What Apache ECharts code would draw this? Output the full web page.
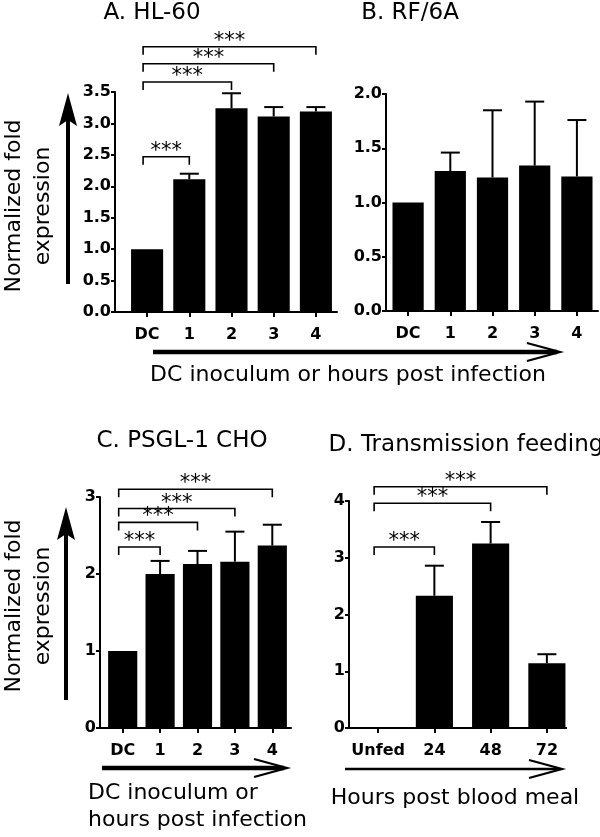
<!DOCTYPE html>
<html><head><meta charset="utf-8">
<script src="https://cdn.jsdelivr.net/npm/echarts@6/dist/echarts.min.js"></script>
<style>html,body{margin:0;padding:0;background:#fff}#c{width:600px;height:837px}</style>
</head><body><div id="c"></div>
<script>
// ---- data ----
const catsAB = ['DC', '1', '2', '3', '4'];
const catsC = ['DC', '1', '2', '3', '4'];
const catsD = ['Unfed', '24', '48', '72'];

const valsA = [1.0, 2.11, 3.24, 3.11, 3.19];
const semA  = [0, 0.09, 0.24, 0.15, 0.07];
const valsB = [1.0, 1.29, 1.23, 1.34, 1.24];
const semB  = [0, 0.17, 0.62, 0.59, 0.52];
const valsC = [1.0, 2.0, 2.13, 2.16, 2.37];
const semC  = [0, 0.17, 0.17, 0.39, 0.27];
const valsD = [0, 2.33, 3.25, 1.14];
const semD  = [0, 0.53, 0.38, 0.16];

// significance brackets: [fromIndex, toIndex, level]
const sigA = [[0, 4, 4.22], [0, 3, 3.95], [0, 2, 3.66], [0, 1, 2.47]];
const sigC = [[0, 4, 3.10], [0, 3, 2.85], [0, 2, 2.67], [0, 1, 2.35]];
const sigD = [[0, 3, 4.25], [0, 2, 3.96], [0, 1, 3.19]];

const titles = ['A. HL-60', 'B. RF/6A', 'C. PSGL-1 CHO', 'D. Transmission feeding'];
const yLabel = 'Normalized fold\nexpression';

// ---- chart ----
const FONT = '"DejaVu Sans", sans-serif';
const chart = echarts.init(document.getElementById('c'), null, {renderer: 'canvas'});

const grids = [
  {left: 126, top: 92, width: 211, height: 220},
  {left: 387, top: 94, width: 211, height: 217},
  {left: 104, top: 497, width: 187, height: 231},
  {left: 350, top: 501, width: 225, height: 227}
];

function xAx(i, cats, showLine) {
  return {
    type: 'category', gridIndex: i, data: cats, boundaryGap: true,
    axisLine: {show: showLine, lineStyle: {color: '#000', width: 2}},
    axisTick: {show: true, alignWithLabel: true, length: 5, lineStyle: {color: '#000', width: 2}},
    axisLabel: {color: '#000', fontFamily: FONT, fontWeight: 'bold', fontSize: 16, margin: 15, interval: 0}
  };
}
function yAx(i, max, interval, dec, offset) {
  return {
    type: 'value', gridIndex: i, min: 0, max: max, interval: interval, offset: offset,
    axisLine: {show: true, lineStyle: {color: '#000', width: 2}},
    axisTick: {show: true, length: 4, lineStyle: {color: '#000', width: 2}},
    splitLine: {show: false},
    axisLabel: {color: '#000', fontFamily: FONT, fontWeight: 'bold', fontSize: 16, margin: 4,
      formatter: v => v.toFixed(dec)}
  };
}

function barSeries(i, vals, w) {
  return {type: 'bar', xAxisIndex: i, yAxisIndex: i, data: vals, barWidth: w,
    itemStyle: {color: '#000'}, silent: true};
}
function errSeries(i, vals, sem) {
  return {
    type: 'custom', xAxisIndex: i, yAxisIndex: i, clip: false, silent: true, z: 5,
    data: vals.map((v, k) => [k, v, sem[k]]),
    encode: {x: 0, y: 1},
    renderItem: function (params, api) {
      const x = api.value(0), v = api.value(1), e = api.value(2);
      if (!e) return null;
      const p0 = api.coord([x, v]);
      const p1 = api.coord([x, v + e]);
      return {type: 'group', children: [
        {type: 'line', shape: {x1: p0[0], y1: p0[1], x2: p1[0], y2: p1[1]}, style: {stroke: '#000', lineWidth: 2}},
        {type: 'line', shape: {x1: p1[0] - 9.5, y1: p1[1], x2: p1[0] + 9.5, y2: p1[1]}, style: {stroke: '#000', lineWidth: 2}}
      ]};
    }
  };
}
function sigSeries(i, sig) {
  return {
    type: 'custom', xAxisIndex: i, yAxisIndex: i, clip: false, silent: true, z: 6,
    data: sig.map(s => [s[0], s[2], s[1]]),
    encode: {x: 0, y: 1},
    renderItem: function (params, api) {
      const a = api.coord([api.value(0), api.value(1)]);
      const b = api.coord([api.value(2), api.value(1)]);
      const ax = a[0] - 4, y = a[1], drop = 8;
      return {type: 'group', children: [
        {type: 'polyline', shape: {points: [[ax, y + drop], [ax, y], [b[0], y], [b[0], y + drop]]},
          style: {stroke: '#000', lineWidth: 1.6, fill: null}},
        {type: 'text', style: {text: '***', x: (ax + b[0]) / 2, y: y + 5, align: 'center', verticalAlign: 'bottom',
          font: '21px ' + FONT, fill: '#000'}}
      ]};
    }
  };
}

function txt(text, x, y, size, opts) {
  return Object.assign({type: 'text', x: x, y: y, silent: true,
    style: Object.assign({text: text, x: 0, y: 0, font: size + 'px ' + FONT, fill: '#000', align: 'center', verticalAlign: 'middle'}, opts || {})});
}
function openHead(x, y) {
  return {type: 'polyline', silent: true, shape: {points: [[x - 33, y - 9], [x, y], [x - 33, y + 9]]},
    style: {stroke: '#000', lineWidth: 2.2, fill: null}};
}
function hLine(x1, x2, y, w) {
  return {type: 'line', silent: true, shape: {x1: x1, y1: y, x2: x2, y2: y}, style: {stroke: '#000', lineWidth: w}};
}
function vArrow(x, yBottom, yTop) {
  return [
    {type: 'line', silent: true, shape: {x1: x, y1: yBottom, x2: x, y2: yTop + 22}, style: {stroke: '#000', lineWidth: 4}},
    {type: 'polygon', silent: true, shape: {points: [[x, yTop], [x + 9, yTop + 33], [x, yTop + 27], [x - 9, yTop + 33]]},
      style: {fill: '#000'}}
  ];
}

const graphics = [
  txt(titles[0], 152, 13, 23),
  txt(titles[1], 410, 13, 23),
  txt(titles[2], 182, 441, 23),
  txt(titles[3], 466, 445, 23),
  Object.assign(txt(yLabel, 29, 206, 22, {lineHeight: 29}), {rotation: Math.PI / 2}),
  Object.assign(txt(yLabel, 29, 606, 22, {lineHeight: 29}), {rotation: Math.PI / 2}),
  ...vArrow(68, 284, 93),
  ...vArrow(66, 700, 507),
  // axis-line stubs between offset y-axes and the category band
  hLine(114, 127, 312, 2),
  hLine(99, 105, 728, 2),
  hLine(349, 567, 728, 2),
  hLine(153, 557, 352, 4.5), openHead(560, 352),
  txt('DC inoculum or hours post infection', 348, 375, 22),
  hLine(102, 284, 768, 4.5), openHead(287, 768),
  txt('DC inoculum or', 88, 793, 22, {align: 'left'}),
  txt('hours post infection', 88, 820, 22, {align: 'left'}),
  hLine(345, 559, 769, 2.5), openHead(562, 769),
  txt('Hours post blood meal', 455, 798, 22)
];

chart.setOption({
  animation: false,
  backgroundColor: '#fff',
  grid: grids,
  xAxis: [xAx(0, catsAB, true), xAx(1, catsAB, true), xAx(2, catsC, true), xAx(3, catsD, false)],
  yAxis: [yAx(0, 3.5, 0.5, 1, 11), yAx(1, 2, 0.5, 1, 1), yAx(2, 3, 1, 0, 4), yAx(3, 4, 1, 0, 1)],
  series: [
    barSeries(0, valsA, '76%'), errSeries(0, valsA, semA), sigSeries(0, sigA),
    barSeries(1, valsB, '74%'), errSeries(1, valsB, semB),
    barSeries(2, valsC, '78%'), errSeries(2, valsC, semC), sigSeries(2, sigC),
    barSeries(3, valsD, '66%'), errSeries(3, valsD, semD), sigSeries(3, sigD)
  ],
  graphic: graphics
});
</script>
</body></html>
